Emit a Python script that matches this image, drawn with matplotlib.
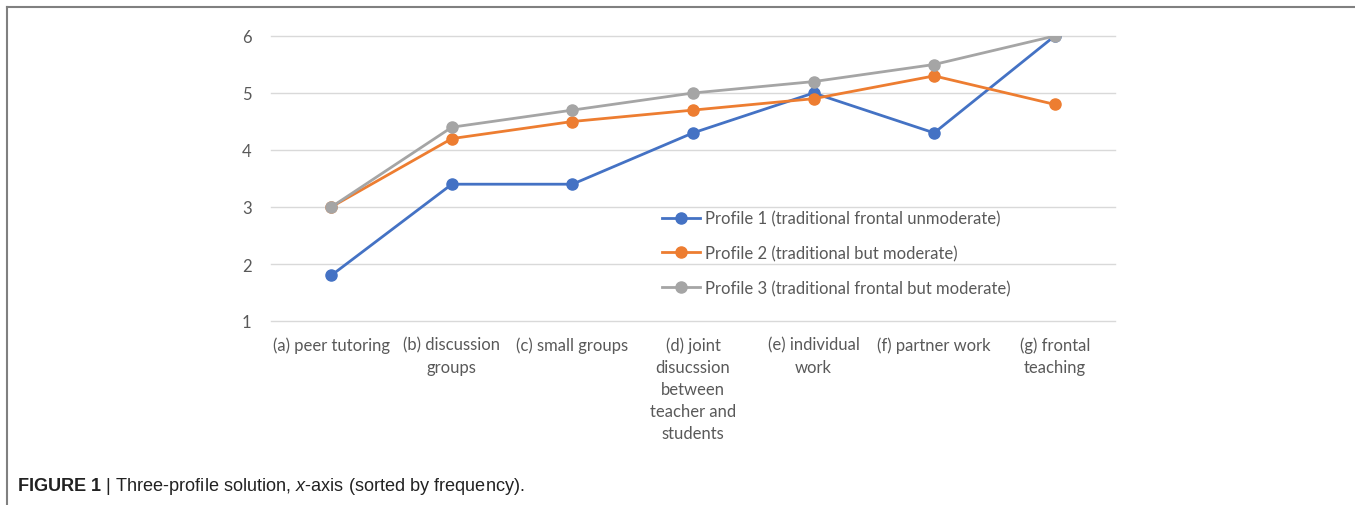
import numpy as np
import matplotlib
matplotlib.use('Agg')
import matplotlib.pyplot as plt
from matplotlib.lines import Line2D

categories = ['(a) peer tutoring', '(b) discussion\ngroups', '(c) small groups',
              '(d) joint\ndisucssion\nbetween\nteacher and\nstudents',
              '(e) individual\nwork', '(f) partner work', '(g) frontal\nteaching']
profile1 = [1.8, 3.4, 3.4, 4.3, 5.0, 4.3, 6.0]
profile2 = [3.0, 4.2, 4.5, 4.7, 4.9, 5.3, 4.8]
profile3 = [3.0, 4.4, 4.7, 5.0, 5.2, 5.5, 6.0]
labels = ['Profile 1 (traditional frontal unmoderate)',
          'Profile 2 (traditional but moderate)',
          'Profile 3 (traditional frontal but moderate)']
colors = ['#4472C4', '#ED7D31', '#A5A5A5']
yticks = [1, 2, 3, 4, 5, 6]

plt.rcParams['font.family'] = ['Lato', 'DejaVu Sans']
plt.rcParams['mathtext.fontset'] = 'custom'
plt.rcParams['mathtext.rm'] = 'Liberation Sans'
plt.rcParams['mathtext.it'] = 'Liberation Sans:italic'
plt.rcParams['mathtext.bf'] = 'Liberation Sans:bold'

fig = plt.figure(figsize=(13.55, 5.06), dpi=100)
ax = fig.add_axes([271/1355, 1-322/506, 844/1355, 285/506])

x = np.arange(len(categories))
for vals, lab, col in zip([profile1, profile2, profile3], labels, colors):
    ax.plot(x, vals, color=col, lw=2, marker='o', ms=8, label=lab, zorder=3)

ax.set_xlim(-0.5, len(categories) - 0.5)
ax.set_ylim(1, 6)
ax.set_yticks(yticks)
ax.set_xticks(x)
ax.set_xticklabels(categories, fontsize=12, color='#595959', linespacing=1.47)
ax.tick_params(axis='y', labelsize=12, labelcolor='#595959', length=0, pad=14)
ax.tick_params(axis='x', length=0, pad=11)
ax.grid(axis='y', color='#d9d9d9', lw=1)
for gl in ax.get_ygridlines():
    gl.set_clip_on(False)
ax.set_axisbelow(True)
for s in ax.spines.values():
    s.set_visible(False)

leg = ax.legend(loc='center left', bbox_to_anchor=(0.463, 0.238), frameon=False,
                fontsize=12, labelspacing=1.12, handlelength=2.3, handletextpad=0.3,
                borderpad=0, borderaxespad=0)
for t in leg.get_texts():
    t.set_color('#595959')

# frame lines of the figure panel
fig.add_artist(Line2D([7/1355, 1], [1-8/506, 1-8/506], color='#808080', lw=1.5))
fig.add_artist(Line2D([7/1355, 7/1355], [0, 1-8/506], color='#808080', lw=1.5))

fig.text(17/1355, 1-487/506, r'$\mathbf{FIGURE\ 1}$ | Three-profile solution, $\mathit{x}$-axis (sorted by frequency).',
         fontsize=13.1, family='Liberation Sans', va='center', ha='left', color='#222222')

fig.savefig('out.png', dpi=100)
